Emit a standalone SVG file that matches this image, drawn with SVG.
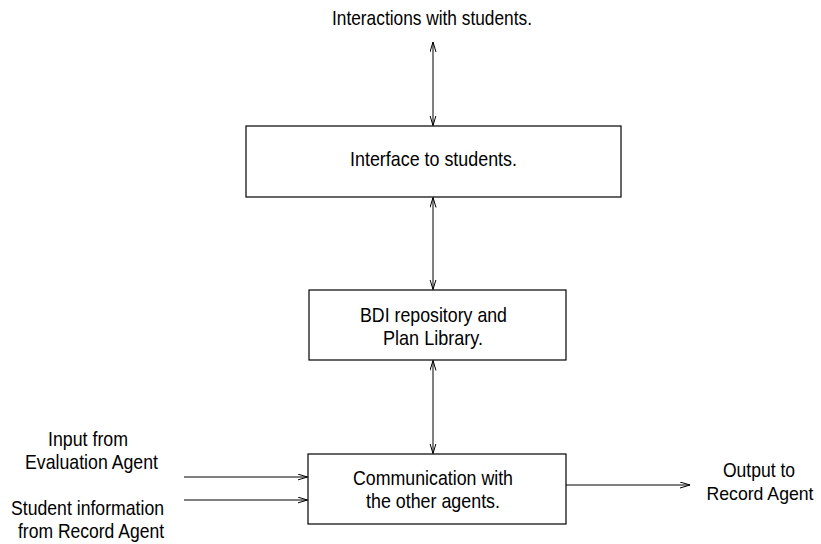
<svg xmlns="http://www.w3.org/2000/svg" width="821" height="544" viewBox="0 0 821 544">
  <style>
    text { font-family: "Liberation Sans Narrow", "Liberation Sans", Arial, sans-serif; font-size: 21px; fill: #000; text-anchor: middle; }
    .box { fill: #fff; stroke: #000; stroke-width: 1.2; }
    .link { stroke: #000; stroke-width: 1; fill: none; }
  </style>
  <defs>
    <marker id="head" markerUnits="userSpaceOnUse" markerWidth="12" markerHeight="8" refX="10" refY="3.5" orient="auto-start-reverse">
      <path d="M0,0.5 L10,3.5 L0,6.5" fill="none" stroke="#000" stroke-width="1"/>
    </marker>
  </defs>

  <!-- free labels -->
  <g id="labels">
    <text x="432" y="25" textLength="200" lengthAdjust="spacingAndGlyphs">Interactions with students.</text>
    <text x="88" y="446" textLength="80" lengthAdjust="spacingAndGlyphs">Input from</text>
    <text x="91.5" y="469" textLength="133" lengthAdjust="spacingAndGlyphs">Evaluation Agent</text>
    <text x="87.5" y="515" textLength="153" lengthAdjust="spacingAndGlyphs">Student information</text>
    <text x="91" y="538" textLength="146" lengthAdjust="spacingAndGlyphs">from Record Agent</text>
    <text x="759" y="477" textLength="72" lengthAdjust="spacingAndGlyphs">Output to</text>
    <text x="760" y="500" style="font-size:19px" textLength="107" lengthAdjust="spacingAndGlyphs">Record Agent</text>
  </g>

  <g id="interface">
    <rect class="box" x="246" y="126" width="375" height="71"/>
    <text x="433.5" y="166" textLength="167" lengthAdjust="spacingAndGlyphs">Interface to students.</text>
  </g>

  <g id="bdi">
    <rect class="box" x="309" y="290" width="257" height="70"/>
    <text x="433.5" y="322" textLength="147" lengthAdjust="spacingAndGlyphs">BDI repository and</text>
    <text x="433" y="345" textLength="100" lengthAdjust="spacingAndGlyphs">Plan Library.</text>
  </g>

  <g id="communication">
    <rect class="box" x="308" y="454" width="258" height="70"/>
    <text x="433" y="485" textLength="160" lengthAdjust="spacingAndGlyphs">Communication with</text>
    <text x="433" y="508" textLength="134" lengthAdjust="spacingAndGlyphs">the other agents.</text>
  </g>

  <!-- connectors -->
  <g id="connectors">
    <line class="link" x1="433" y1="42" x2="433" y2="125.5" marker-start="url(#head)" marker-end="url(#head)"/>
    <line class="link" x1="433" y1="197.5" x2="433" y2="289.5" marker-start="url(#head)" marker-end="url(#head)"/>
    <line class="link" x1="433" y1="360.5" x2="433" y2="453.5" marker-start="url(#head)" marker-end="url(#head)"/>
    <line class="link" x1="184" y1="477" x2="307.5" y2="477" marker-end="url(#head)"/>
    <line class="link" x1="184" y1="500" x2="307.5" y2="500" marker-end="url(#head)"/>
    <line class="link" x1="566" y1="485" x2="690" y2="485" marker-end="url(#head)"/>
  </g>
</svg>
